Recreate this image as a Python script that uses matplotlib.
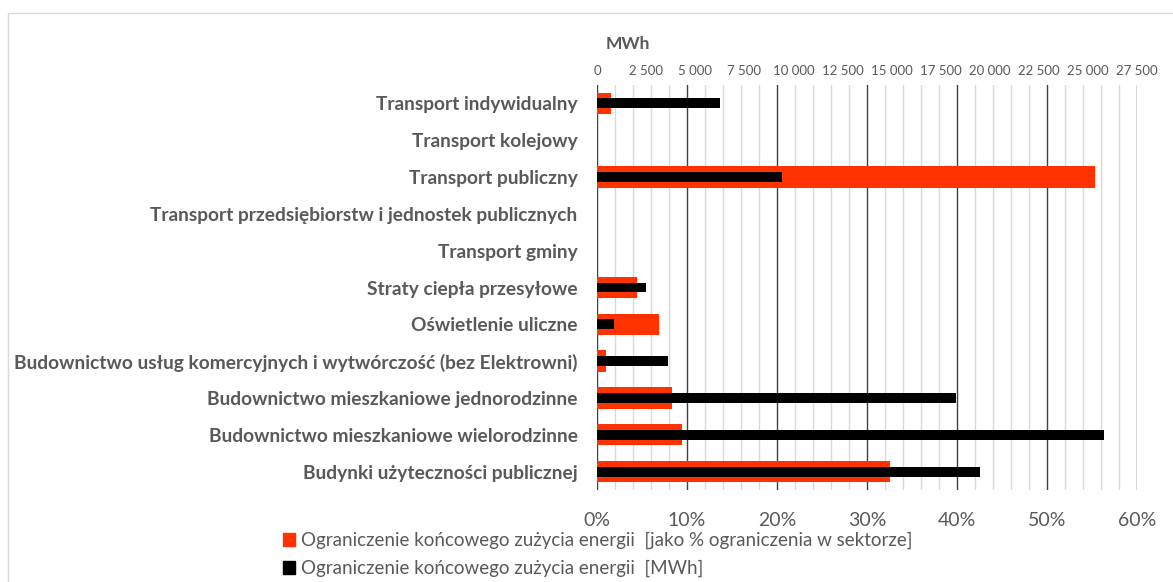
import matplotlib.pyplot as plt
from matplotlib.ticker import MultipleLocator, FuncFormatter
from matplotlib.patches import Rectangle, Patch
import numpy as np

categories = [
    'Transport indywidualny',
    'Transport kolejowy',
    'Transport publiczny',
    'Transport przedsiębiorstw i jednostek publicznych',
    'Transport gminy',
    'Straty ciepła przesyłowe',
    'Oświetlenie uliczne',
    'Budownictwo usług komercyjnych i wytwórczość (bez Elektrowni)',
    'Budownictwo mieszkaniowe jednorodzinne',
    'Budownictwo mieszkaniowe wielorodzinne',
    'Budynki użyteczności publicznej',
]
pct = [1.6, 0, 55.3, 0, 0, 4.4, 6.9, 0.95, 8.3, 9.4, 32.5]
mwh = [6250, 0, 9400, 0, 0, 2480, 860, 3620, 18300, 25800, 19500]

series_pct = 'Ograniczenie końcowego zużycia energii  [jako % ograniczenia w sektorze]'
series_mwh = 'Ograniczenie końcowego zużycia energii  [MWh]'

red = '#FF3300'
grey = '#595959'

plt.rcParams['font.family'] = ['Lato', 'DejaVu Sans']

fig = plt.figure(figsize=(11.73, 5.82), dpi=100)
ax = fig.add_axes([597/1173, 1 - 490/582, 540/1173, 405/582])

y = np.arange(len(categories))
ax.barh(y, pct, height=0.58, color=red, zorder=3)
ax.set_xlim(0, 60)
ax.set_ylim(len(categories) - 0.5, -0.5)
ax.xaxis.set_major_locator(MultipleLocator(10))
ax.xaxis.set_minor_locator(MultipleLocator(2))
ax.xaxis.set_major_formatter(FuncFormatter(lambda v, p: '%d%%' % v))
ax.grid(axis='x', which='minor', color='#D9D9D9', lw=1, zorder=0)
ax.grid(axis='x', which='major', color='#404040', lw=1, zorder=1)
ax.set_yticks(y)
ax.set_yticklabels(categories, fontsize=13.8, fontweight='bold', color=grey)
ax.tick_params(axis='y', length=0, pad=14)
ax.tick_params(axis='x', which='both', length=0, labelsize=14, colors=grey, pad=16)
for s in ax.spines.values():
    s.set_visible(False)

ax2 = ax.twiny()
ax2.barh(y, mwh, height=0.27, color='black', zorder=3)
ax2.set_xlim(0, 27500)
ax2.xaxis.set_major_locator(MultipleLocator(2500))
ax2.xaxis.set_major_formatter(FuncFormatter(lambda v, p: '{:,.0f}'.format(v).replace(',', ' ')))
ax2.tick_params(axis='x', length=0, labelsize=9.5, colors=grey, pad=6)
for s in ax2.spines.values():
    s.set_visible(False)
fig.text(628/1173, 1 - 44/582, 'MWh', ha='center', va='center',
         fontsize=12.5, fontweight='bold', color=grey)

handles = [Patch(color=red, label=series_pct), Patch(color='black', label=series_mwh)]
fig.legend(handles=handles, loc='upper left', bbox_to_anchor=(270/1173, 1 - 519/582),
           frameon=False, fontsize=13.5, labelcolor=grey, handlelength=0.65,
           handleheight=0.65, handletextpad=0.3, labelspacing=0.55, borderpad=0.2)

fig.patches.append(Rectangle((8/1173, -0.1), 1.2, 1 - 13/582 + 0.1,
                             transform=fig.transFigure, fill=False,
                             edgecolor='#D9D9D9', lw=1))

fig.savefig('out.png', dpi=100)
